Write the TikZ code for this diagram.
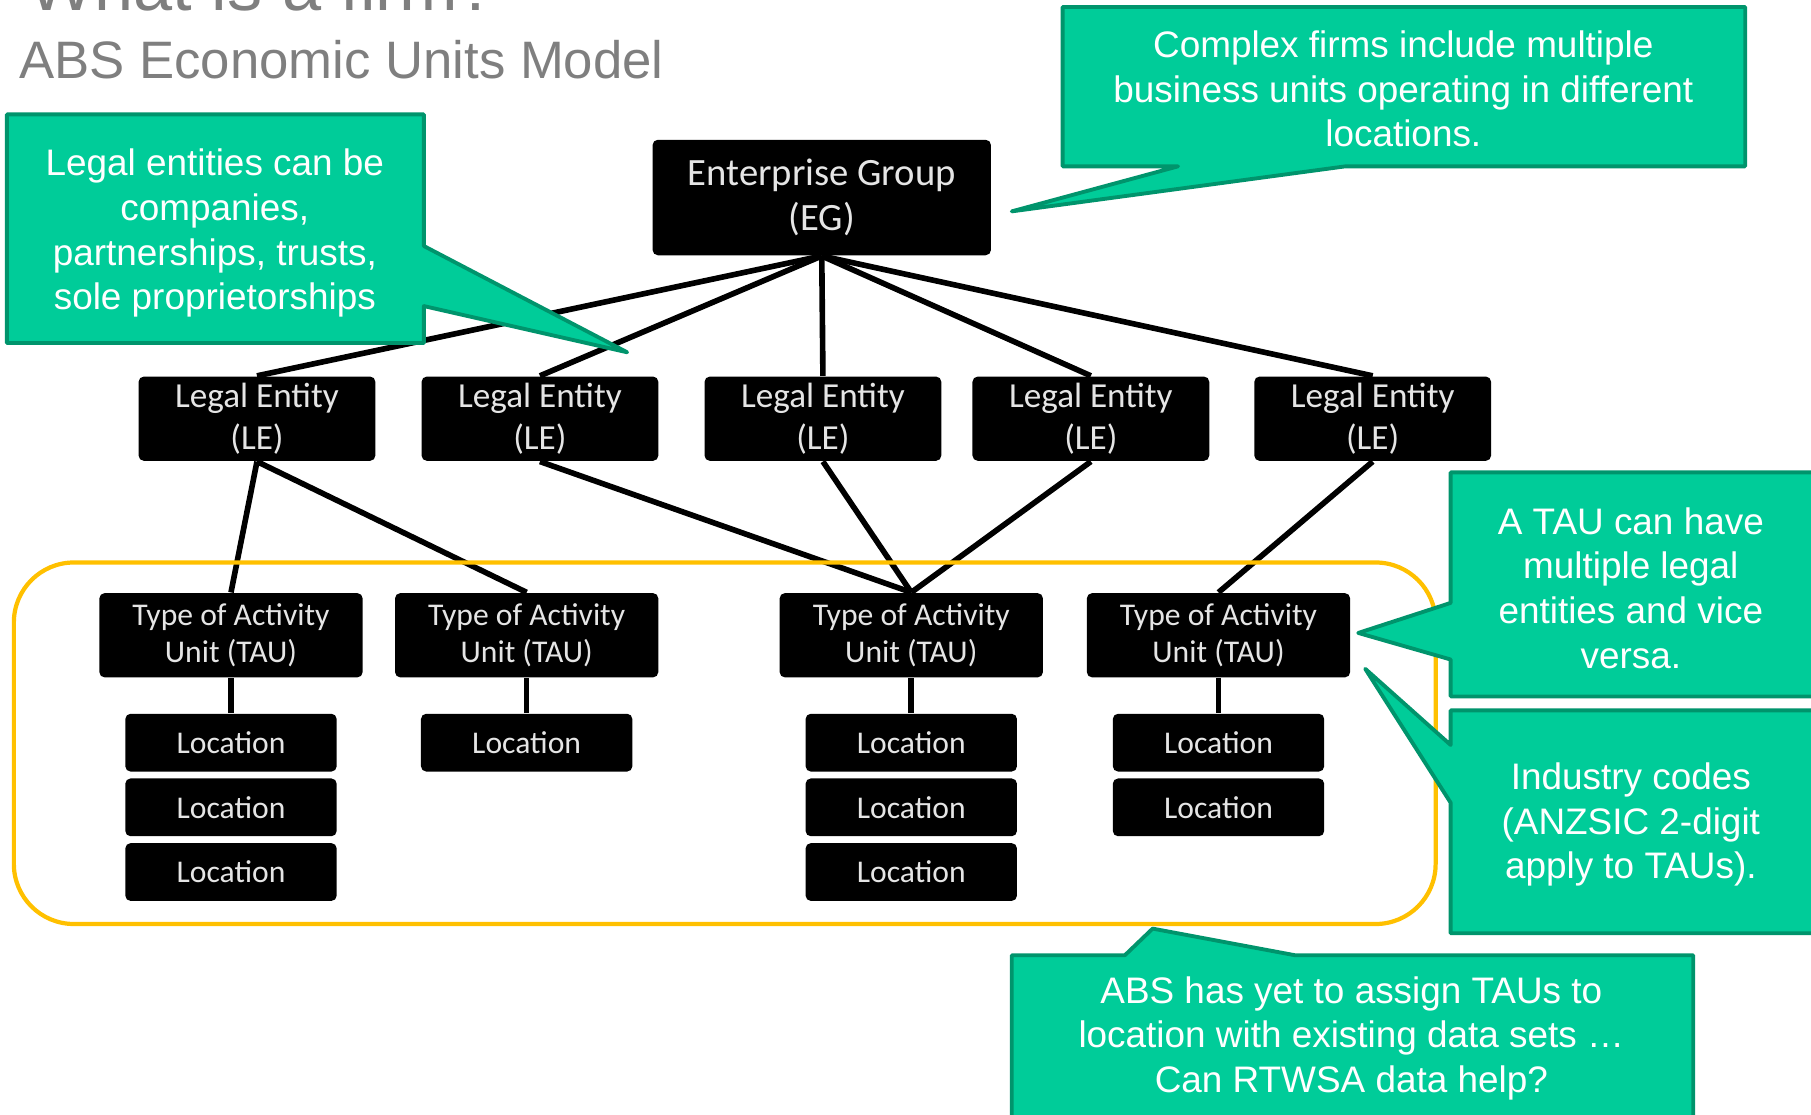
\documentclass[tikz,border=0pt]{standalone}
\usepackage{fontspec}
\setmainfont{Liberation Sans}
\newfontfamily\boxfont{Carlito}
\definecolor{calloutfill}{RGB}{0,204,153}
\definecolor{calloutline}{RGB}{0,148,108}
\definecolor{framegold}{RGB}{255,192,0}
\definecolor{titlegray}{RGB}{127,127,127}

\begin{document}
\begin{tikzpicture}[x=0.01155cm, y=-0.01155cm,
  unit/.style={fill=black, rounded corners=1.5pt, text=white!90!black, align=center, inner sep=0pt},
  link/.style={line width=1.6pt},
  callout/.style={fill=calloutfill, draw=calloutline, line width=1.1pt, line join=round},
  note/.style={text=white, align=center, inner sep=0pt, font=\fontsize{10.5}{12.7}\selectfont}]
\useasboundingbox (0,0) rectangle (1568,965);
\clip (0,0) rectangle (1568,965);

% Titles
\node[anchor=base west, inner sep=0pt, text=titlegray, font=\fontsize{20}{24}\selectfont] (title) at (24,9) {What is a firm?};
\node[anchor=base west, inner sep=0pt, text=titlegray, font=\fontsize{15}{18}\selectfont] (subtitle) at (16,68) {ABS Economic Units Model};

% Enterprise group
\node[unit, minimum width=3.384cm, minimum height=1.155cm, font=\boxfont\fontsize{11}{13}\selectfont] (eg) at (711.5,171) {Enterprise Group\\(EG)};

% Legal entities
\foreach \i/\x in {1/222.5,2/467.5,3/712.5,4/944.5,5/1188.5} {
  \node[unit, minimum width=2.368cm, minimum height=0.843cm, font=\boxfont\fontsize{10}{11.8}\selectfont] (le\i) at (\x,362.5) {Legal Entity\\(LE)};
  \draw[link] (eg.south) -- (le\i.north);
}

% Type of activity units
\foreach \i/\x in {1/200,2/456,3/789,4/1055}
  \node[unit, minimum width=2.633cm, minimum height=0.843cm, font=\boxfont\fontsize{9}{10.5}\selectfont] (tau\i) at (\x,550) {Type of Activity\\Unit (TAU)};

\foreach \a/\b in {le1/tau1,le1/tau2,le2/tau3,le3/tau3,le4/tau3,le5/tau4}
  \draw[link] (\a.south) -- (\b.north);

% Locations
\foreach \i/\x/\n in {1/200/3,2/456/1,3/789/3,4/1055/2} {
  \foreach \j in {1,...,\n}
    \node[unit, minimum width=2.114cm, minimum height=0.578cm, font=\boxfont\fontsize{9}{10.5}\selectfont] (loc\i-\j) at (\x,587+56*\j) {Location};
  \draw[link] (tau\i.south) -- (loc\i-1.north);
}

% TAU frame
\draw[framegold, line width=1.2pt, rounded corners=0.6cm] (12,487) rectangle (1243,800);

% Callouts
\draw[callout] (6,99) -- (367,99) -- (367,213) -- (543,305) -- (367,265) -- (367,297) -- (6,297) -- cycle;
\node[note] (legalnote) at (186,202) {Legal entities can be\\companies,\\partnerships, trusts,\\sole proprietorships};

\draw[callout] (920,6) -- (1511,6) -- (1511,144) -- (1165,144) -- (876,183) -- (1020,144) -- (920,144) -- cycle;
\node[note] (firmnote) at (1215,77) {Complex firms include multiple\\business units operating in different\\locations.};

\draw[callout] (1256,409) -- (1590,409) -- (1590,603) -- (1256,603) -- (1256,571) -- (1176,548) -- (1256,522) -- cycle;
\node[note] (taunote) at (1412,509) {A TAU can have\\multiple legal\\entities and vice\\versa.};

\draw[callout] (1256,615) -- (1590,615) -- (1590,808) -- (1256,808) -- (1256,695) -- (1182,579) -- (1256,645) -- cycle;
\node[note] (codenote) at (1412,714) {Industry codes\\(ANZSIC 2-digit\\apply to TAUs).};

\draw[callout] (876,827) -- (974,827) -- (998,804) -- (1121,827) -- (1466,827) -- (1466,990) -- (876,990) -- cycle;
\node[note] (absnote) at (1170,899) {ABS has yet to assign TAUs to\\location with existing data sets …\\Can RTWSA data help?};

\end{tikzpicture}
\end{document}
